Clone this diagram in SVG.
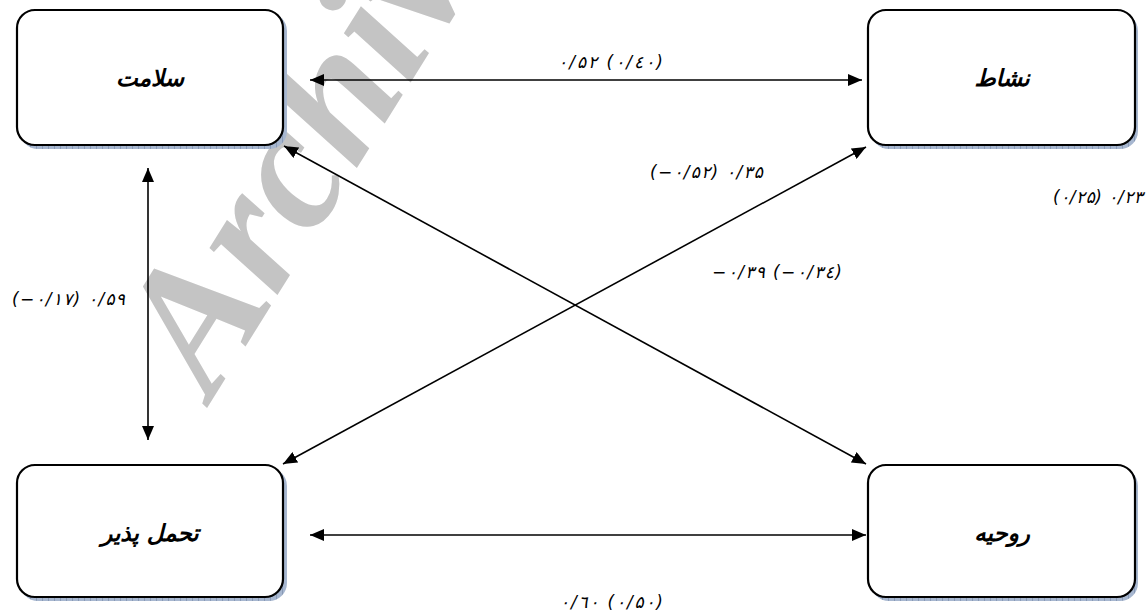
<svg xmlns="http://www.w3.org/2000/svg" width="1146" height="613" viewBox="0 0 1146 613">
<style>
.box{fill:#ffffff;stroke:#000000;stroke-width:2.2}
.shadow{fill:url(#hatch);stroke:none}
.lbl{font-family:"DejaVu Sans",sans-serif;font-weight:bold;font-style:italic;font-size:23px;fill:#000;text-anchor:middle}
.num{font-family:"DejaVu Sans",sans-serif;font-style:italic;font-size:17px;fill:#000;direction:ltr;unicode-bidi:bidi-override}
.conn{stroke:#000;stroke-width:1.6;fill:none;marker-start:url(#ah);marker-end:url(#ah)}
.wm{font-family:"Liberation Serif",serif;font-weight:bold;font-style:italic;font-size:180px;fill:#c4c4c4}
</style>
<defs>
<pattern id="hatch" width="6" height="6" patternUnits="userSpaceOnUse">
<rect width="6" height="6" fill="#a7b7d0"/>
<line x1="0" y1="0" x2="0" y2="6" stroke="#6c7e9c" stroke-width="1"/>
</pattern>
<marker id="ah" viewBox="0 0 14 12" refX="14" refY="6" markerWidth="14" markerHeight="12" markerUnits="userSpaceOnUse" orient="auto-start-reverse">
<path d="M0,0 L14,6 L0,12 Z" fill="#000"/>
</marker>
</defs>
<rect width="1146" height="613" fill="#ffffff"/>
<text class="wm" transform="translate(212,400) rotate(-58)">Archive</text>
<g id="node-salamat">
<rect class="shadow" x="20" y="13" width="267" height="136" rx="18"/>
<rect class="box" x="17" y="10" width="266" height="135" rx="18"/>
<text class="lbl" x="150" y="86">سلامت</text>
</g>
<g id="node-neshat">
<rect class="shadow" x="871" y="13" width="267" height="136" rx="18"/>
<rect class="box" x="868" y="10" width="267" height="135" rx="18"/>
<text class="lbl" x="1002" y="86">نشاط</text>
</g>
<g id="node-tahammol">
<rect class="shadow" x="20" y="468" width="267" height="133" rx="18"/>
<rect class="box" x="17" y="465" width="266" height="132" rx="18"/>
<text class="lbl" x="150" y="541">تحمل پذیر</text>
</g>
<g id="node-ruhiye">
<rect class="shadow" x="871" y="468" width="267" height="133" rx="18"/>
<rect class="box" x="868" y="465" width="267" height="132" rx="18"/>
<text class="lbl" x="1002" y="541">روحیه</text>
</g>
<g id="connectors">
<line class="conn" x1="310" y1="80" x2="862" y2="80"/>
<line class="conn" x1="148" y1="168" x2="148" y2="440"/>
<line class="conn" x1="284" y1="146" x2="866" y2="464"/>
<line class="conn" x1="866" y1="147" x2="283" y2="464"/>
<line class="conn" x1="310" y1="535" x2="866" y2="535"/>
</g>
<g id="labels">
<text class="num" x="558" y="68" textLength="105" lengthAdjust="spacing">۰/۵۲ (۰/٤۰)</text>
<text class="num" x="650" y="178" textLength="113" lengthAdjust="spacing">(−۰/۵۲) ۰/۳۵</text>
<text class="num" x="1053" y="203" textLength="90" lengthAdjust="spacing">(۰/۲۵) ۰/۲۳</text>
<text class="num" x="712" y="278" textLength="130" lengthAdjust="spacing">−۰/۳۹ (−۰/۳٤)</text>
<text class="num" x="12" y="305" textLength="113" lengthAdjust="spacing">(−۰/۱۷) ۰/۵۹</text>
<text class="num" x="560" y="608" textLength="103" lengthAdjust="spacing">۰/٦۰ (۰/۵۰)</text>
</g>
</svg>
